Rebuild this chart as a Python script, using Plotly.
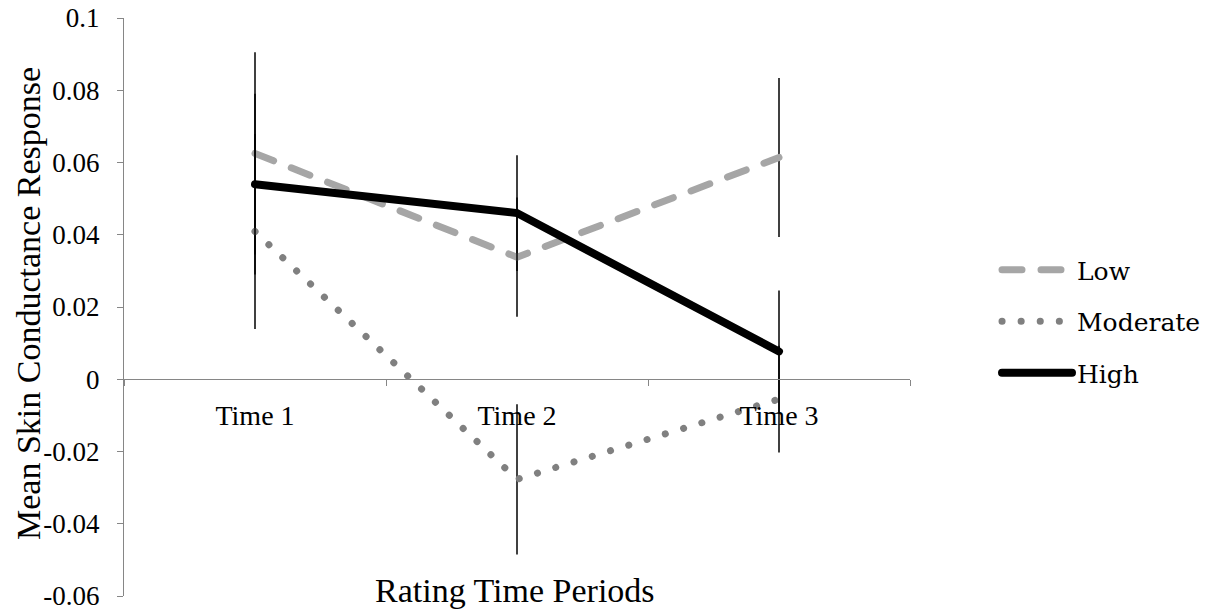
import plotly.graph_objects as go

categories = ["Time 1", "Time 2", "Time 3"]
series_names = ["Low", "Moderate", "High"]
low_values = [0.0625, 0.0338, 0.0614]
moderate_values = [0.0409, -0.0277, -0.0055]
high_values = [0.0540, 0.0460, 0.0077]
low_errors = [0.028, 0.0165, 0.022]
moderate_errors = [0.027, 0.0208, 0.0148]
high_errors = [0.025, 0.016, 0.0169]
y_tickvals = [-0.06, -0.04, -0.02, 0, 0.02, 0.04, 0.06, 0.08, 0.1]
y_ticktext = ["-0.06", "-0.04", "-0.02", "0", "0.02", "0.04", "0.06", "0.08", "0.1"]
x_title = "Rating Time Periods"
y_title = "Mean Skin Conductance Response"

styles = {
    "Low": dict(color="#A6A6A6", width=7, dash="20px,19px"),
    "Moderate": dict(color="#808080", width=7, dash="0.1px,19px"),
    "High": dict(color="#000000", width=8, dash="solid"),
}
values = {"Low": low_values, "Moderate": moderate_values, "High": high_values}
errors = {"Low": low_errors, "Moderate": moderate_errors, "High": high_errors}

fig = go.Figure()
for name in series_names:
    fig.add_trace(go.Scatter(
        x=categories, y=values[name], name=name, mode="lines",
        legendgroup=name,
        line=styles[name],
        error_y=dict(type="data", array=errors[name], symmetric=True,
                     color="black", thickness=1.5, width=0),
    ))

axis_color = "#868686"
serif = "Liberation Serif"
L, R, T, B = 124, 297, 18, 16
W, H = 1207, 612
pw, ph = W - L - R, H - T - B

fig.update_layout(
    width=W, height=H,
    margin=dict(l=L, r=R, t=T, b=B, pad=0, autoexpand=False),
    paper_bgcolor="white", plot_bgcolor="white",
    font=dict(family=serif, color="black"),
    showlegend=True,
    legend=dict(
        x=(997 - L) / pw, xanchor="left",
        y=(H - B - 247) / ph, yanchor="top",
        font=dict(family="DejaVu Serif", size=25, color="black"),
        itemwidth=70, tracegroupgap=16, bgcolor="rgba(0,0,0,0)",
    ),
    xaxis=dict(
        type="category", range=[-0.5, 2.5],
        anchor="free", position=(0 - (-0.06)) / 0.16,
        showline=True, linecolor=axis_color, linewidth=1.3,
        ticks="outside", tickson="boundaries", ticklen=6,
        tickcolor=axis_color, tickwidth=1.3,
        tickfont=dict(family=serif, size=28, color="black"),
        ticklabelstandoff=11,
        showgrid=False, zeroline=False,
    ),
    yaxis=dict(
        range=[-0.06, 0.1],
        tickvals=y_tickvals, ticktext=y_ticktext,
        showline=True, linecolor=axis_color, linewidth=1.3,
        ticks="outside", ticklen=6, tickcolor=axis_color, tickwidth=1.3,
        tickfont=dict(family=serif, size=27, color="black"),
        ticklabelstandoff=12,
        showgrid=False, zeroline=False,
    ),
    annotations=[
        dict(text=y_title, xref="paper", yref="paper",
             x=(28 - L) / pw, y=(H - B - 304) / ph,
             xanchor="center", yanchor="middle", textangle=-90,
             showarrow=False, font=dict(family=serif, size=34, color="black")),
        dict(text=x_title, xref="paper", yref="paper",
             x=(515 - L) / pw, y=(H - B - 611) / ph,
             xanchor="center", yanchor="bottom",
             showarrow=False, font=dict(family=serif, size=34, color="black")),
    ],
)

post = """
document.querySelectorAll('.js-line').forEach(function(p){p.style.strokeLinecap='round';});
"""
fig.write_html("out.html", post_script=post)
